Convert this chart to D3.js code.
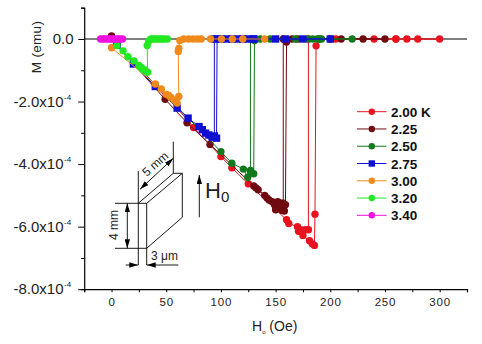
<!DOCTYPE html>
<html>
<head>
<meta charset="utf-8">
<script src="https://d3js.org/d3.v7.min.js"></script>
<style>
html, body { margin: 0; padding: 0; background: #fff; }
text { font-family: "Liberation Sans", Arial, sans-serif; fill: #222; }
</style>
</head>
<body>
<div id="chart"></div>
<script>
// field in Oe, moment in units of 1e-4 emu, in sweep order
let h200 = [5, 20, 50, 75, 100, 110, 125, 160, 162, 170, 171, 173, 175, 181, 183.5, 185.5, 186, 187, 190, 205, 240, 260, 270, 280, 300, 260, 200, 180, 180, 177, 173];
let m200 = [-0.2, -0.75, -1.8, -2.83, -3.76, -4.12, -4.63, -5.78, -5.9, -6.0, -6.15, -6.1, -6.28, -6.45, -6.55, -6.6, -5.6, -0.22, 0, 0, 0, 0, 0, 0, 0, 0, 0, 0, -6.1, -6.1, -6.15];

let h225 = [0, 5, 49, 69, 90, 130, 132, 134, 140, 142, 144, 147, 149, 150, 152, 155, 156, 158, 159, 160, 165, 170, 210, 230, 250, 200, 157, 157, 154];
let m225 = [0.1, -0.2, -1.93, -2.68, -3.37, -4.7, -4.76, -4.82, -5.0, -5.08, -5.15, -5.2, -5.3, -5.46, -5.2, -5.25, -5.48, -5.5, -5.3, -0.1, 0, 0, 0, 0, 0, 0, 0, -5.25, -5.3];

let h250 = [5, 100, 110, 120.5, 124.5, 127, 130, 130.7, 136, 145, 168, 180, 184, 188, 192, 220, 190, 127, 127];
let m250 = [-0.2, -3.6, -3.97, -4.16, -4.42, -4.24, -4.31, -0.05, 0, 0, 0, 0, 0, 0, 0, 0, 0, 0, -4.2];

let h275 = [5, 20, 40, 60, 70, 80, 83, 86, 89, 92, 96, 96.5, 100, 105, 110, 115, 120, 124, 130, 150, 159, 175, 200, 130, 94, 94];
let m275 = [-0.2, -0.8, -1.52, -2.21, -2.53, -2.8, -2.9, -3.01, -3.07, -3.14, -3.17, 0, 0, 0, 0, 0, 0, 0, 0, 0, 0, 0, 0, 0, 0, -3.1];

let h300 = [0, 40, 45.5, 50, 52, 54, 57, 59, 60, 61.5, 61, 61.5, 62.5, 66, 70.5, 74.5, 78.5, 82, 90.5, 100.5, 110.5, 120, 140];
let m300 = [-0.28, -1.44, -1.6, -1.77, -1.8, -1.86, -1.95, -2.0, -2.05, -1.84, -0.4, -0.3, -0.05, 0, 0, 0, 0, 0, 0, 0, 0, 0, 0];

let h320 = [5, 10.5, 15, 20.5, 25, 27, 28, 30, 31, 33, 32.6, 34, 36, 38, 40, 42, 44, 46, 48, 51];
let m320 = [-0.21, -0.38, -0.57, -0.7, -0.85, -0.9, -0.96, -0.98, -1.02, -1.06, -0.21, -0.06, 0, 0, 0, 0, 0, 0, 0, 0];

let h340 = [-10, -8, -6, -4, -2, 0, 2, 4, 6, 8, 10];
let m340 = [0, 0, 0, 0, 0, 0, 0, 0, 0, 0, 0];

let tempLabels = ["2.00 K", "2.25", "2.50", "2.75", "3.00", "3.20", "3.40"];
let tempColors = ["#e8131f", "#6e0a10", "#127a1c", "#1010d0", "#f08a1c", "#22e822", "#f010e0"];
let xTicks = [0, 50, 100, 150, 200, 250, 300];
let yTicks = [0, -2, -4, -6, -8];

let seriesH = [h200, h225, h250, h275, h300, h320, h340];
let seriesM = [m200, m225, m250, m275, m300, m320, m340];

let svg = d3.select("#chart")
.append("svg")
.attr("width", 482)
.attr("height", 344)
.style("display", "block");

let x = d3.scaleLinear().domain([-25, 325]).range([84.2, 467]);
let y = d3.scaleLinear().domain([-8, 1]).range([289.2, 7.7]);

// axes
let xAxis = d3.axisBottom(x)
.tickValues(d3.range(-25, 326, 25))
.tickSize(3)
.tickFormat(d => xTicks.includes(d) ? d : "");

let yAxis = d3.axisLeft(y)
.tickValues(d3.range(-8, 2))
.tickSize(3)
.tickFormat("");

let gx = svg.append("g")
.attr("transform", "translate(0," + y(-8) + ")")
.call(xAxis);
gx.select(".domain").attr("stroke", "#000").attr("stroke-width", 1.2);
gx.selectAll("text")
.attr("y", 9)
.style("font-size", "11.5px")
.style("letter-spacing", "0.8px");

let gy = svg.append("g")
.attr("transform", "translate(" + x(-25) + ",0)")
.call(yAxis);
gy.select(".domain").attr("stroke", "#000").attr("stroke-width", 1.2);
gy.selectAll(".tick line")
.attr("x2", d => yTicks.includes(d) ? -6 : -3);

// zero line
svg.append("line")
.attr("x1", x(-25)).attr("x2", x(325))
.attr("y1", y(0)).attr("y2", y(0))
.attr("stroke", "#000")
.attr("stroke-width", 1.2);

// y tick labels, with the power of ten as superscript
yTicks.forEach(d => {
    svg.append("text")
    .attr("x", d === 0 ? 73.5 : 63.5)
    .attr("y", y(d) + 5)
    .attr("text-anchor", "end")
    .style("font-size", "15px")
    .text(d === 0 ? "0.0" : d3.format(".1f")(d).replace("−", "-") + "x10");
    if (d !== 0) {
        svg.append("text")
        .attr("x", 64)
        .attr("y", y(d) - 2)
        .style("font-size", "8px")
        .text("-4");
    }
});

svg.append("text")
.attr("transform", "translate(41,47) rotate(-90)")
.attr("text-anchor", "middle")
.style("font-size", "13.5px")
.style("letter-spacing", "0.3px")
.text("M (emu)");

let xTitle = svg.append("text")
.attr("x", 252)
.attr("y", 331)
.style("font-size", "14px");
xTitle.append("tspan").text("H");
xTitle.append("tspan").attr("dy", 3).style("font-size", "6px").text("o");
xTitle.append("tspan").attr("dy", -3).text(" (Oe)");

// series, lowest temperature first
let line = d3.line()
.x(d => x(d[0]))
.y(d => y(d[1]));

function drawMarker(g, px, py, i, r) {
    if (i === 3) {
        g.append("rect")
        .attr("x", px - r).attr("y", py - r)
        .attr("width", 2 * r).attr("height", 2 * r)
        .attr("fill", tempColors[i]);
    } else {
        g.append("circle")
        .attr("cx", px).attr("cy", py)
        .attr("r", r)
        .attr("fill", tempColors[i]);
    }
}

seriesH.forEach((hs, i) => {
    let pts = hs.map((h, k) => [h, seriesM[i][k]]);
    let g = svg.append("g");
    g.append("path")
    .attr("d", line(pts))
    .attr("fill", "none")
    .attr("stroke", tempColors[i])
    .attr("stroke-width", 1);
    pts.forEach(p => drawMarker(g, x(p[0]), y(p[1]), i, 3.7));
});

// legend
let legendY = d3.scalePoint()
.domain(d3.range(tempLabels.length))
.range([111.7, 215.3]);

tempLabels.forEach((t, i) => {
    let g = svg.append("g");
    g.append("line")
    .attr("x1", 357).attr("x2", 386.5)
    .attr("y1", legendY(i)).attr("y2", legendY(i))
    .attr("stroke", tempColors[i])
    .attr("stroke-width", 1);
    drawMarker(g, 371.8, legendY(i), i, 3.2);
    g.append("text")
    .attr("x", 391)
    .attr("y", legendY(i) + 5)
    .style("font-size", "13.5px")
    .style("font-weight", "bold")
    .style("fill", "#111")
    .text(t);
});

// sample sketch
let defs = svg.append("defs");
defs.append("marker")
.attr("id", "head")
.attr("viewBox", "0 0 10 6")
.attr("refX", 10).attr("refY", 3)
.attr("markerWidth", 9).attr("markerHeight", 5.5)
.attr("markerUnits", "userSpaceOnUse")
.attr("orient", "auto-start-reverse")
.append("path")
.attr("d", "M0,0L10,3L0,6Z")
.attr("fill", "#000");

let sketch = svg.append("g")
.attr("stroke", "#000")
.attr("stroke-width", 0.9)
.attr("fill", "none");

[
    [115, 203.3, 146.7, 203.3],
    [115, 248.3, 146.7, 248.3],
    [138.3, 171, 138.3, 265],
    [146.7, 203.3, 146.7, 265],
    [138.3, 203.3, 173.3, 173.3],
    [146.7, 203.3, 182.3, 173.3],
    [173.3, 173.3, 182.3, 173.3],
    [173.3, 141.7, 173.3, 173.3],
    [182.3, 173.3, 182.3, 217.3],
    [182.3, 217.3, 146.7, 248.3]
].forEach(s => {
    sketch.append("line")
    .attr("x1", s[0]).attr("y1", s[1])
    .attr("x2", s[2]).attr("y2", s[3]);
});

[
    [140, 189.3, 173.3, 158.3, true],
    [127.3, 203.3, 127.3, 248.3, true],
    [125.7, 265, 138.3, 265, false],
    [178.3, 265, 146.7, 265, false],
    [199.3, 217.3, 199.3, 175, false]
].forEach(s => {
    let a = sketch.append("line")
    .attr("x1", s[0]).attr("y1", s[1])
    .attr("x2", s[2]).attr("y2", s[3])
    .attr("marker-end", "url(#head)");
    if (s[4]) a.attr("marker-start", "url(#head)");
});

svg.append("text")
.attr("transform", "translate(158,167) rotate(-42)")
.attr("text-anchor", "middle")
.style("font-size", "12px")
.text("5 mm");

svg.append("text")
.attr("transform", "translate(117.5,225) rotate(-90)")
.attr("text-anchor", "middle")
.style("font-size", "12px")
.text("4 mm");

svg.append("text")
.attr("x", 151)
.attr("y", 260)
.style("font-size", "12px")
.text("3 μm");

let h0 = svg.append("text")
.attr("x", 205)
.attr("y", 198)
.style("font-size", "22px");
h0.append("tspan").text("H");
h0.append("tspan").attr("dy", 4).style("font-size", "15px").text("0");
</script>
</body>
</html>
